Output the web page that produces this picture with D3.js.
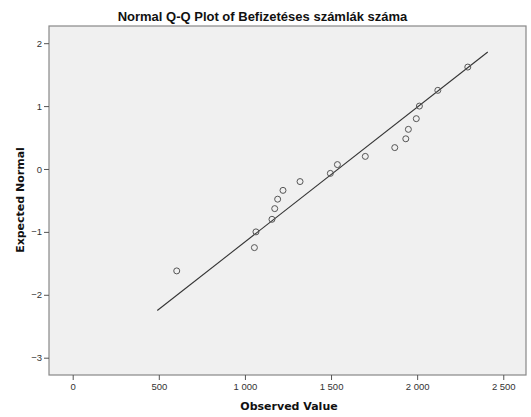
<html lang="en">
<head>
    <title>Normal Q-Q Plot</title>
    <style>
        body {
            margin: 0;
            background: #fff;
        }

        .tick text {
            font-family: "Liberation Sans", Arial, sans-serif;
            font-size: 9.5px;
            fill: #333;
        }

        .tick line {
            stroke: #555;
        }

        .domain {
            display: none;
        }
    </style>
</head>
<body>
<div id="chart"></div>
<script src="https://cdnjs.cloudflare.com/ajax/libs/d3/7.8.5/d3.min.js"></script>
<script>
    // observed values (sorted) and their expected normal scores
    const observed = [604, 1055, 1064, 1157, 1173, 1190, 1221, 1320, 1496, 1537,
        1699, 1870, 1934, 1949, 1995, 2013, 2120, 2294];
    const expected = [-1.62, -1.25, -1.00, -0.80, -0.63, -0.48, -0.34, -0.20, -0.07, 0.07,
        0.20, 0.34, 0.48, 0.63, 0.80, 1.00, 1.25, 1.62];
    // reference line end points
    const lineX = [491, 2410];
    const lineY = [-2.25, 1.86];
    const xTicks = [0, 500, 1000, 1500, 2000, 2500];
    const yTicks = [-3, -2, -1, 0, 1, 2];

    const width = 531;
    const height = 417;
    const margin = {left: 49, right: 5, top: 26, bottom: 42};

    const svg = d3.select("#chart").append("svg")
        .attr("width", width)
        .attr("height", height);

    const x = d3.scaleLinear()
        .domain([-137.6, 2632])
        .range([margin.left, width - margin.right]);
    const y = d3.scaleLinear()
        .domain([-3.275, 2.273])
        .range([height - margin.bottom, margin.top]);

    svg.append("rect")
        .attr("x", margin.left)
        .attr("y", margin.top)
        .attr("width", width - margin.left - margin.right)
        .attr("height", height - margin.top - margin.bottom)
        .attr("fill", "#f0f0f0")
        .attr("stroke", "#888")
        .attr("stroke-width", 1.2);

    const fmt = d => d3.format(",")(d).replace(/,/g, "\u00a0");

    svg.append("g")
        .attr("transform", "translate(0," + (height - margin.bottom) + ")")
        .call(d3.axisBottom(x).tickValues(xTicks).tickFormat(fmt).tickSize(5).tickPadding(3));

    svg.append("g")
        .attr("transform", "translate(" + margin.left + ",0)")
        .call(d3.axisLeft(y).tickValues(yTicks).tickFormat(d3.format("d")).tickSize(5).tickPadding(2));

    svg.append("line")
        .attr("x1", x(lineX[0]))
        .attr("y1", y(lineY[0]))
        .attr("x2", x(lineX[1]))
        .attr("y2", y(lineY[1]))
        .attr("stroke", "#333")
        .attr("stroke-width", 1.1);

    svg.append("g")
        .selectAll("circle")
        .data(observed)
        .enter().append("circle")
        .attr("cx", d => x(d))
        .attr("cy", (d, i) => y(expected[i]))
        .attr("r", 3)
        .attr("fill", "none")
        .attr("stroke", "#555")
        .attr("stroke-width", 1);

    svg.append("text")
        .attr("x", 262.5)
        .attr("y", 21)
        .attr("text-anchor", "middle")
        .style("font-family", "'Liberation Sans', Arial, sans-serif")
        .style("font-weight", "bold")
        .style("font-size", "13px")
        .attr("fill", "#111")
        .text("Normal Q-Q Plot of Befizetéses számlák száma");

    svg.append("text")
        .attr("x", 289)
        .attr("y", 410)
        .attr("text-anchor", "middle")
        .style("font-family", "'DejaVu Sans', sans-serif")
        .style("font-weight", "bold")
        .style("font-size", "11px")
        .attr("fill", "#111")
        .text("Observed Value");

    svg.append("text")
        .attr("transform", "translate(24,200) rotate(-90)")
        .attr("text-anchor", "middle")
        .style("font-family", "'DejaVu Sans', sans-serif")
        .style("font-weight", "bold")
        .style("font-size", "11px")
        .attr("fill", "#111")
        .text("Expected Normal");
</script>
</body>
</html>
